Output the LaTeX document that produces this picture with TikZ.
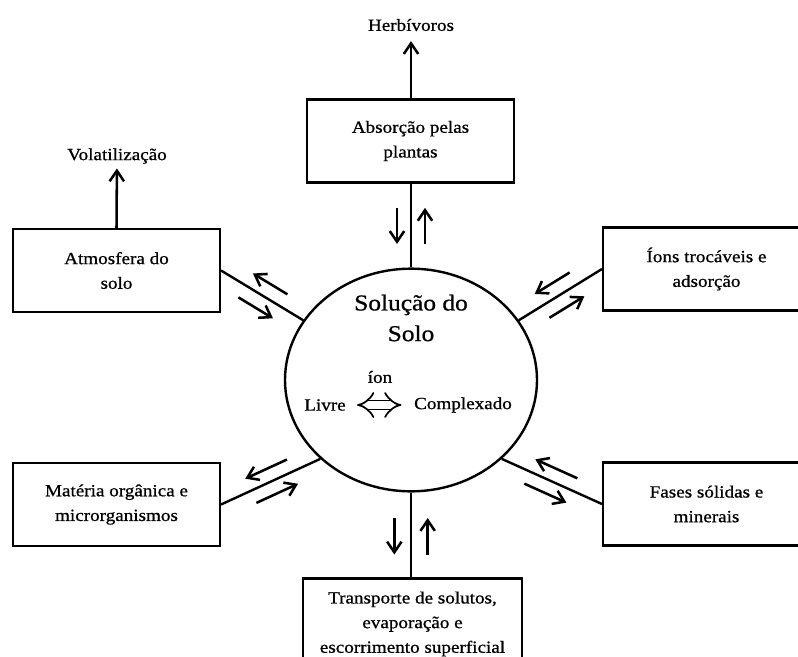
\documentclass[tikz,border=0pt]{standalone}
\usepackage{fontspec}
\setmainfont{Liberation Serif}[FakeStretch=1.12, FakeBold=0.8]
\usetikzlibrary{shapes.geometric, arrows.meta, calc}

\begin{document}
\begin{tikzpicture}[x=0.75pt, y=-0.75pt,
    box/.style={rectangle, draw, line width=1.8pt, minimum width=155pt,
                minimum height=62pt, align=center,
                font=\fontsize{12.8}{18.5}\selectfont},
    soil/.style={ellipse, draw, line width=1.8pt, minimum width=189pt,
                 minimum height=167pt},
    link/.style={line width=1.8pt},
    arrow/.style={-{Straight Barb[length=2.8mm, width=3.8mm]}, line width=1.9pt},
    dbl/.style={{Implies}-{Implies}, double, double distance=5.5pt, line width=1.3pt},
    lab/.style={font=\fontsize{12.8}{15}\selectfont},
]
\clip (0,0) rectangle (798,656);

% ---------- Centre: soil solution ----------
\node[soil] (sol) at (411,380) {};
\node[font=\fontsize{17}{23}\selectfont, align=center] (solo) at (411,318) {Solução do\\Solo};
\node[lab] (ion)     at (380,377) {íon};
\node[lab] (livre)   at (325,405) {Livre};
\node[lab] (complex) at (463,405) {Complexado};
\draw[dbl, shorten <=5pt, shorten >=6pt] (livre.east) -- (complex.west);

% ---------- Boxes round the solution ----------
\node[box] (plants) at (410.5,141) {Absorção pelas\\plantas};
\node[box] (atm)    at (116.5,270.5) {Atmosfera do\\solo};
\node[box] (ions)   at (706.5,269) {Íons trocáveis e\\adsorção};
\node[box] (mat)    at (116.5,504.5) {Matéria orgânica e\\microrganismos};
\node[box] (fases)  at (706.5,504) {Fases sólidas e\\minerais};
\node[box, minimum width=164pt, minimum height=68pt] (trans) at (412.5,624)
      {Transporte de solutos,\\evaporação e\\escorrimento superficial};

% ---------- Losses ----------
\node[lab] (herb) at (411,25)  {Herbívoros};
\node[lab] (vol)  at (117,156) {Volatilização};
\draw[arrow, shorten >=4pt] (herb.south |- plants.north) -- (herb);
\draw[arrow] (atm.north) -- (vol);

% ---------- Top: plants <-> solution ----------
\coordinate (ptop) at (sol.north |- plants.south);
\draw[link] (ptop) -- (sol.north);
\draw[arrow] ($(ptop)!0.29!(sol.north)!10.5pt!270:(sol.north)$) -- ($(ptop)!0.72!(sol.north)!10.5pt!270:(sol.north)$);
\draw[arrow] ($(ptop)!0.72!(sol.north)!10.5pt!90:(sol.north)$) -- ($(ptop)!0.29!(sol.north)!10.5pt!90:(sol.north)$);

% ---------- Upper left: atmosphere ----------
\draw[link] (atm.east) -- (sol.151);
\draw[arrow] ($(atm.east)!0.3!(sol.151)!10.5pt!270:(sol.151)$) -- ($(atm.east)!0.72!(sol.151)!10.5pt!270:(sol.151)$);
\draw[arrow] ($(atm.east)!0.72!(sol.151)!10.5pt!90:(sol.151)$) -- ($(atm.east)!0.3!(sol.151)!10.5pt!90:(sol.151)$);

% ---------- Upper right: exchange ----------
\draw[link] (ions.west) -- (sol.29);
\draw[arrow] ($(ions.west)!0.3!(sol.29)!10.5pt!270:(sol.29)$) -- ($(ions.west)!0.72!(sol.29)!10.5pt!270:(sol.29)$);
\draw[arrow] ($(ions.west)!0.72!(sol.29)!10.5pt!90:(sol.29)$) -- ($(ions.west)!0.3!(sol.29)!10.5pt!90:(sol.29)$);

% ---------- Lower left: organic matter ----------
\draw[link] (mat.east) -- (sol.221);
\draw[arrow] ($(mat.east)!0.3!(sol.221)!10pt!270:(sol.221)$) -- ($(mat.east)!0.72!(sol.221)!10pt!270:(sol.221)$);
\draw[arrow] ($(mat.east)!0.72!(sol.221)!10pt!90:(sol.221)$) -- ($(mat.east)!0.3!(sol.221)!10pt!90:(sol.221)$);

% ---------- Lower right: solid phases ----------
\draw[link] (fases.west) -- (sol.319);
\draw[arrow] ($(fases.west)!0.3!(sol.319)!10pt!270:(sol.319)$) -- ($(fases.west)!0.72!(sol.319)!10pt!270:(sol.319)$);
\draw[arrow] ($(fases.west)!0.72!(sol.319)!10pt!90:(sol.319)$) -- ($(fases.west)!0.3!(sol.319)!10pt!90:(sol.319)$);

% ---------- Bottom: transport ----------
\coordinate (pbot) at (sol.south |- trans.north);
\draw[link] (pbot) -- (sol.south);
\draw[arrow] ($(pbot)!0.27!(sol.south)!12.5pt!270:(sol.south)$) -- ($(pbot)!0.7!(sol.south)!12.5pt!270:(sol.south)$);
\draw[arrow] ($(pbot)!0.7!(sol.south)!12.5pt!90:(sol.south)$) -- ($(pbot)!0.27!(sol.south)!12.5pt!90:(sol.south)$);

\end{tikzpicture}
\end{document}
